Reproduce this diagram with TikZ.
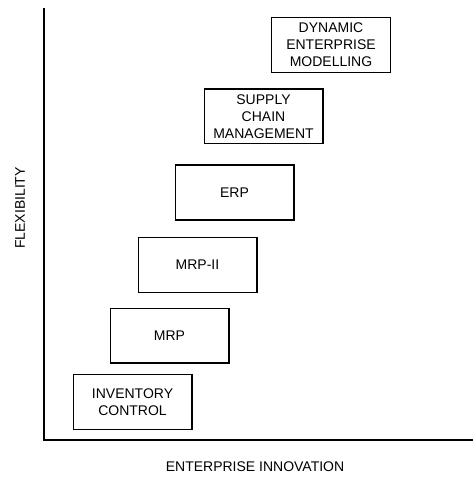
\documentclass[tikz,border=0pt]{standalone}
\usepackage{fontspec}
\setmainfont{Liberation Sans}
\usepackage{tikz}
\usetikzlibrary{positioning}

\tikzset{
  stage/.style={draw, line width=1pt, align=center, minimum width=89pt, minimum height=41pt,
    inner sep=1pt, font=\fontsize{10.5}{12.8}\selectfont},
  axislabel/.style={font=\fontsize{10.5}{12.8}\selectfont},
}

\begin{document}
\begin{tikzpicture}[x=0.75pt, y=-0.75pt]
  \useasboundingbox (0,0) rectangle (473,477);

  % Axes
  \coordinate (origin) at (44,440);
  \coordinate (ytop) at (44,8);
  \coordinate (xend) at (473,440);
  \draw[line width=1.5pt] (ytop) -- (origin) -- (xend);

  % Stages
  \node[stage] (inv) at (132.5,402) {INVENTORY\\CONTROL};
  \node[stage] (mrp) at (169.5,335.5) {MRP};
  \node[stage] (mrpii) at (197.5,265) {MRP-II};
  \node[stage] (erp) at (234.5,192.5) {ERP};
  \node[stage] (scm) at (263.5,116.5) {SUPPLY\\CHAIN\\MANAGEMENT};
  \node[stage] (dem) at (331,45) {DYNAMIC\\ENTERPRISE\\MODELLING};

  % Axis labels
  \node[axislabel] (xlabel) at (255,467) {ENTERPRISE INNOVATION};
  \node[axislabel, rotate=90] (ylabel) at (20,208) {FLEXIBILITY};
\end{tikzpicture}
\end{document}
